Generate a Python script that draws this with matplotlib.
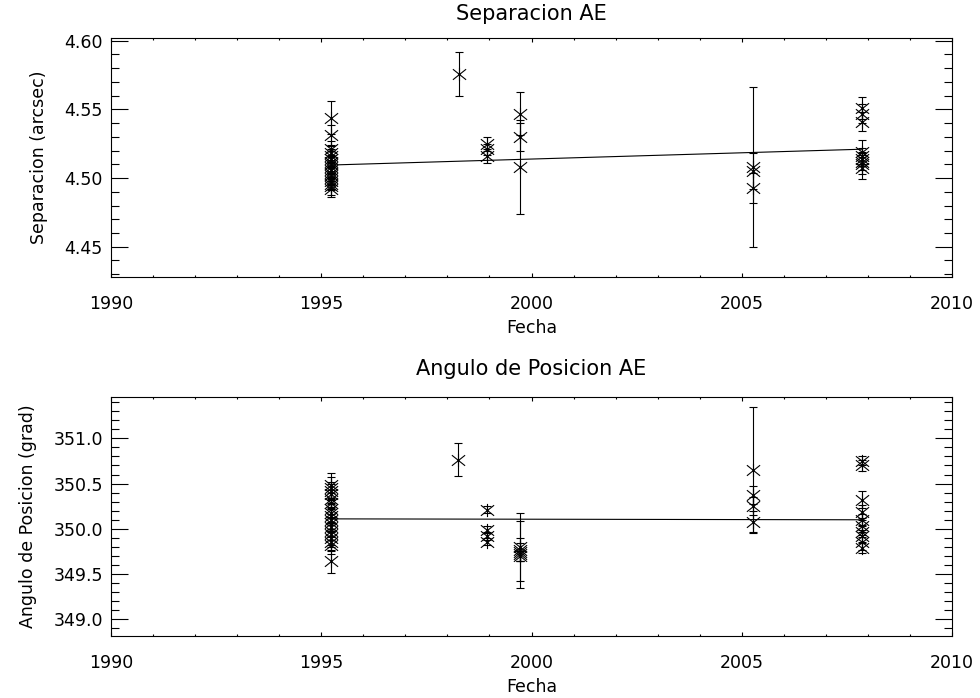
import numpy as np
import matplotlib
matplotlib.use("Agg")
import matplotlib.pyplot as plt
from matplotlib.path import Path
from matplotlib.ticker import MultipleLocator, FormatStrFormatter

# separacion AE (arcsec)
sep_dates = [1995.23] * 17 + [1998.28] + [1998.93] * 3 + [1999.73] * 3 + [2005.27] * 3 + [2007.85] * 9
sep = [4.544, 4.531, 4.521, 4.518, 4.516, 4.514, 4.512, 4.510, 4.508, 4.506, 4.504, 4.502, 4.500,
       4.498, 4.496, 4.494, 4.492,
       4.576,
       4.525, 4.521, 4.516,
       4.547, 4.530, 4.508,
       4.508, 4.505, 4.4925,
       4.551, 4.547, 4.541, 4.519, 4.516, 4.514, 4.512, 4.510, 4.507]
sep_err = [0.012, 0.008, 0.006, 0.006, 0.005, 0.006, 0.005, 0.006, 0.005, 0.006, 0.005, 0.006, 0.005,
           0.006, 0.005, 0.006, 0.006,
           0.016,
           0.005, 0.004, 0.005,
           0.016, 0.010, 0.034,
           0.058, 0.013, 0.011,
           0.008, 0.007, 0.007, 0.009, 0.006, 0.005, 0.006, 0.007, 0.008]
sep_fit_x = [1995.23, 2007.85]
sep_fit = [4.5095, 4.521]

# angulo de posicion AE (grad)
pa_dates = [1995.23] * 18 + [1998.26] + [1998.93] * 4 + [1999.73] * 5 + [2005.27] * 4 + [2007.85] * 10
pa = [350.48, 350.45, 350.42, 350.38, 350.33, 350.28, 350.22, 350.18, 350.14, 350.10, 350.06, 350.02,
      349.98, 349.94, 349.90, 349.86, 349.82, 349.64,
      350.765,
      350.21, 349.99, 349.92, 349.86,
      349.80, 349.77, 349.74, 349.72, 349.70,
      350.65, 350.37, 350.25, 350.08,
      350.75, 350.70, 350.32, 350.19, 350.10, 350.03, 349.97, 349.92, 349.85, 349.79]
pa_err = [0.14, 0.12, 0.10, 0.11, 0.10, 0.12, 0.10, 0.11, 0.10, 0.12, 0.10, 0.11,
          0.10, 0.12, 0.10, 0.11, 0.10, 0.13,
          0.18,
          0.04, 0.04, 0.04, 0.04,
          0.38, 0.13, 0.10, 0.37, 0.06,
          0.70, 0.10, 0.10, 0.12,
          0.05, 0.06, 0.095, 0.07, 0.06, 0.07, 0.06, 0.07, 0.08, 0.055]
pa_fit_x = [1995.23, 2007.85]
pa_fit = [350.11, 350.10]

plt.rcParams['font.family'] = ['DejaVu Sans']
plt.rcParams['font.size'] = 12.5

# IDL style asterisk (vertical + X)
star = Path([(0, -1), (0, 1), (-1, -0.8), (1, 0.8), (-1, 0.8), (1, -0.8)],
            [Path.MOVETO, Path.LINETO, Path.MOVETO, Path.LINETO, Path.MOVETO, Path.LINETO])


def panel(ax, d, v, e, fx, fy, title, ylabel, ylim, major, minor, fmt, tpad):
    ax.errorbar(d, v, yerr=e, fmt='none', ecolor='k', elinewidth=0.8, capsize=3.2, capthick=0.8)
    ax.plot(d, v, ls='none', marker=star, ms=9.5, mec='k', mfc='none', mew=0.8)
    ax.plot(fx, fy, 'k-', lw=0.8)
    ax.set_xlim(1990, 2010); ax.set_ylim(*ylim)
    ax.xaxis.set_major_locator(MultipleLocator(5))
    ax.xaxis.set_minor_locator(MultipleLocator(1))
    ax.yaxis.set_major_locator(MultipleLocator(major))
    ax.yaxis.set_minor_locator(MultipleLocator(minor))
    ax.yaxis.set_major_formatter(FormatStrFormatter(fmt))
    ax.tick_params(which='both', direction='in', top=True, right=True, width=0.8)
    ax.tick_params(axis='x', which='major', length=3.2, pad=13)
    ax.tick_params(axis='x', which='minor', length=1.5)
    ax.tick_params(axis='y', which='major', length=12, pad=6)
    ax.tick_params(axis='y', which='minor', length=6)
    for s in ax.spines.values():
        s.set_linewidth(0.8)
    ax.set_title(title, pad=tpad)
    ax.set_xlabel('Fecha', labelpad=4)
    ax.set_ylabel(ylabel, labelpad=12)


fig = plt.figure(figsize=(9.8, 6.98), dpi=100)
ax1 = fig.add_axes([0.1133, 0.6032, 0.8581, 0.3424])
ax2 = fig.add_axes([0.1133, 0.0888, 0.8581, 0.3424])

panel(ax1, sep_dates, sep, sep_err, sep_fit_x, sep_fit, 'Separacion AE', 'Separacion (arcsec)',
      (4.428, 4.602), 0.05, 0.01, '%.2f', 13)
panel(ax2, pa_dates, pa, pa_err, pa_fit_x, pa_fit, 'Angulo de Posicion AE', 'Angulo de Posicion (grad)',
      (348.816, 351.456), 0.5, 0.1, '%.1f', 16)

fig.savefig('out.png', dpi=100)
